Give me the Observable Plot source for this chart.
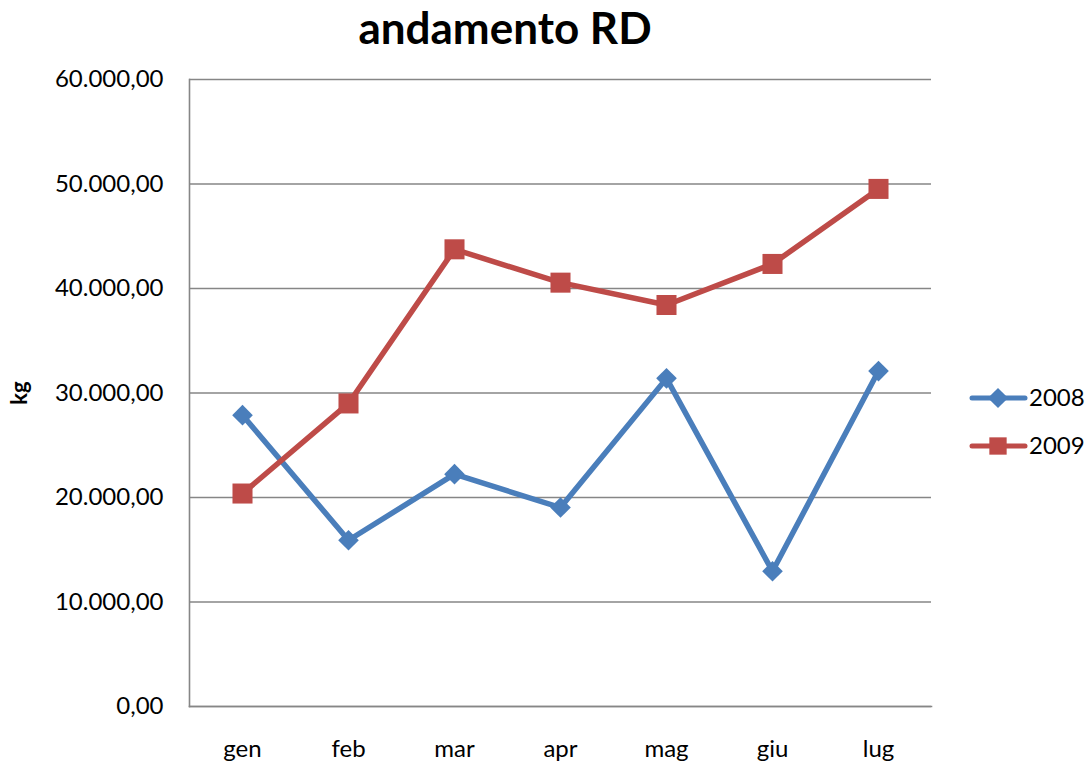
<!DOCTYPE html>
<html>
<head>
<meta charset="utf-8">
<script src="https://cdn.jsdelivr.net/npm/d3@7"></script>
<script src="https://cdn.jsdelivr.net/npm/@observablehq/plot@0.6"></script>
<style>
  html, body { margin: 0; padding: 0; background: #fff; }
  #chart { position: relative; width: 1090px; height: 771px; }
</style>
</head>
<body>
<div id="chart"></div>
<script>
const months = ["gen", "feb", "mar", "apr", "mag", "giu", "lug"];
const series = ["2008", "2009"];
const values2008 = [27880, 15910, 22230, 19040, 31400, 12940, 32100];
const values2009 = [20380, 29000, 43750, 40560, 38420, 42350, 49530];
const yTicks = [0, 10000, 20000, 30000, 40000, 50000, 60000];
const colors = ["#4A7EBB", "#BE4B48"];
const symbols = ["diamond2", "square"];
const titleText = "andamento RD";
const yLabel = "kg";

const data = [
  ...months.map((m, i) => ({month: m, value: values2008[i], series: series[0]})),
  ...months.map((m, i) => ({month: m, value: values2009[i], series: series[1]}))
];

const it = d3.formatLocale({decimal: ",", thousands: ".", grouping: [3], currency: ["€", ""]});
const fmt = it.format(",.2f");
const font = "Lato, 'Open Sans', sans-serif";

const plot = Plot.plot({
  width: 1090,
  height: 771,
  marginLeft: 189,
  marginRight: 159,
  marginTop: 79,
  marginBottom: 65,
  style: {fontFamily: font, fontSize: "24px", color: "#000", background: "#fff"},
  x: {type: "point", domain: months, padding: 0.5},
  y: {domain: [0, 60000], ticks: yTicks},
  color: {domain: series, range: colors},
  symbol: {domain: series, range: symbols},
  marks: [
    Plot.gridY(yTicks, {stroke: "#868686", strokeOpacity: 1, strokeWidth: 1.4}),
    Plot.axisY(yTicks, {tickSize: 0, tickPadding: 26, tickFormat: fmt, label: yLabel, labelAnchor: "center", labelArrow: "none", labelOffset: 178, fontSize: 24}),
    Plot.axisX({tickSize: 0, tickPadding: 33, label: null, fontSize: 24}),
    Plot.frame({anchor: "left", stroke: "#868686", strokeWidth: 1.6}),
    Plot.frame({anchor: "bottom", stroke: "#868686", strokeWidth: 1.6}),
    Plot.line(data, {x: "month", y: "value", z: "series", stroke: "series", strokeWidth: 5.5, strokeLinejoin: "round", strokeLinecap: "round"}),
    Plot.dot(data, {filter: d => d.series === series[0], x: "month", y: "value", symbol: "series", fill: "series", stroke: "none", r: 9.3}),
    Plot.dot(data, {filter: d => d.series === series[1], x: "month", y: "value", symbol: "series", fill: "series", stroke: "none", r: 11.3})
  ]
});

const svg = d3.select(plot);
svg.selectAll("[aria-label='y-axis label'] text").attr("font-weight", "bold").attr("font-size", 22);

// title
svg.append("text")
  .attr("x", 505).attr("y", 44)
  .attr("text-anchor", "middle")
  .attr("font-family", font)
  .attr("font-weight", "bold")
  .attr("font-size", 44)
  .attr("fill", "#000")
  .text(titleText);

// legend
const legend = svg.append("g").attr("font-family", font).attr("font-size", 24).attr("text-anchor", "start");
series.forEach((s, i) => {
  const y = 398 + i * 48;
  const g = legend.append("g");
  g.append("line").attr("x1", 972).attr("x2", 1025).attr("y1", y).attr("y2", y)
    .attr("stroke", colors[i]).attr("stroke-width", 5).attr("stroke-linecap", "round");
  const sym = d3.symbol().type(i === 0 ? d3.symbolDiamond2 : d3.symbolSquare).size(i === 0 ? 260 : 300);
  g.append("path").attr("d", sym()).attr("transform", `translate(998,${y})`).attr("fill", colors[i]);
  g.append("text").attr("x", 1029).attr("y", y).attr("dy", "0.35em").attr("text-anchor", "start").attr("fill", "#000").text(s);
});

document.getElementById("chart").appendChild(plot);
</script>
</body>
</html>
